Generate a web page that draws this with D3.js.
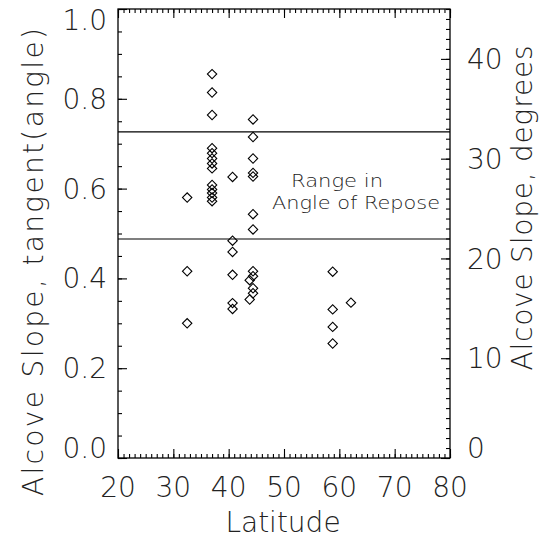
<!DOCTYPE html>
<html>
<head>
<meta charset="utf-8">
<script src="https://cdn.jsdelivr.net/npm/d3@7"></script>
<style>
  html, body { margin: 0; padding: 0; background: #fff; }
  svg { display: block; }
  text { font-family: "DejaVu Sans", sans-serif; font-weight: 200; fill: #222; }
</style>
</head>
<body>
<svg id="chart" width="539" height="545"></svg>
<script>
// Alcove slopes by latitude (tangent of slope angle)
const latitude = [
  32.5, 32.5, 32.5,
  37.0, 37.0, 37.0, 37.0, 37.0, 37.0, 37.0, 37.0, 37.0, 37.0, 37.0, 37.0, 37.0,
  40.7, 40.7, 40.7, 40.7, 40.7, 40.7,
  44.4, 44.4, 44.4, 44.4, 44.4, 44.4, 44.4, 44.4, 44.4, 44.4, 44.4, 43.8, 43.8,
  58.8, 58.8, 58.8, 58.8,
  62.1
];
const slopeTan = [
  0.580, 0.416, 0.300,
  0.855, 0.814, 0.764, 0.690, 0.679, 0.667, 0.656, 0.645, 0.608, 0.598, 0.590, 0.580, 0.572,
  0.626, 0.484, 0.459, 0.408, 0.345, 0.332,
  0.754, 0.715, 0.667, 0.635, 0.627, 0.543, 0.509, 0.416, 0.405, 0.378, 0.367, 0.396, 0.353,
  0.415, 0.331, 0.292, 0.255,
  0.346
];
// Angle of repose range, as tangents of 36 and 26 degrees
const reposeLimits = [0.7265, 0.4877];

const latTicks = [20, 30, 40, 50, 60, 70, 80];
const tanTicks = [0.0, 0.2, 0.4, 0.6, 0.8, 1.0];
const degTicks = [0, 10, 20, 30, 40];

const svg = d3.select("#chart");
const plotLeft = 118, plotRight = 450, plotTop = 9, plotBottom = 458;

const x = d3.scaleLinear().domain([20, 80]).range([plotLeft, plotRight]);
const y = d3.scaleLinear().domain([0, 1]).range([plotBottom, plotTop]);
const yDeg = d3.scaleLinear().domain([0, 45]).range([plotBottom, plotTop]);

const ink = "#000";

// frame
svg.append("rect")
  .attr("x", plotLeft).attr("y", plotTop)
  .attr("width", plotRight - plotLeft).attr("height", plotBottom - plotTop)
  .attr("fill", "none").attr("stroke", ink).attr("stroke-width", 1.3);

function styleTicks(g) {
  g.select(".domain").remove();
  g.selectAll("line").attr("stroke", ink).attr("stroke-width", 1.1);
}

const latMinor = d3.range(20, 81, 1);
const tanMinor = d3.range(0, 1.0001, 0.05);
const degMinor = d3.range(0, 46, 1);

// bottom / top ticks (pointing inward)
svg.append("g").attr("transform", `translate(0,${plotBottom})`)
  .call(d3.axisTop(x).tickValues(latMinor).tickSize(4).tickFormat(""))
  .call(styleTicks);
svg.append("g").attr("transform", `translate(0,${plotBottom})`)
  .call(d3.axisTop(x).tickValues(latTicks).tickSize(9).tickFormat(""))
  .call(styleTicks);
svg.append("g").attr("transform", `translate(0,${plotTop})`)
  .call(d3.axisBottom(x).tickValues(latMinor).tickSize(4).tickFormat(""))
  .call(styleTicks);
svg.append("g").attr("transform", `translate(0,${plotTop})`)
  .call(d3.axisBottom(x).tickValues(latTicks).tickSize(9).tickFormat(""))
  .call(styleTicks);

// left ticks
svg.append("g").attr("transform", `translate(${plotLeft},0)`)
  .call(d3.axisRight(y).tickValues(tanMinor).tickSize(4).tickFormat(""))
  .call(styleTicks);
svg.append("g").attr("transform", `translate(${plotLeft},0)`)
  .call(d3.axisRight(y).tickValues(tanTicks).tickSize(9).tickFormat(""))
  .call(styleTicks);

// right ticks (degrees)
svg.append("g").attr("transform", `translate(${plotRight},0)`)
  .call(d3.axisLeft(yDeg).tickValues(degMinor).tickSize(4).tickFormat(""))
  .call(styleTicks);
svg.append("g").attr("transform", `translate(${plotRight},0)`)
  .call(d3.axisLeft(yDeg).tickValues(degTicks).tickSize(9).tickFormat(""))
  .call(styleTicks);

const fs = 28;

// bottom tick labels
svg.append("g").selectAll("text").data(latTicks).join("text")
  .attr("x", d => x(d)).attr("y", 497)
  .attr("text-anchor", "middle").attr("font-size", fs)
  .text(d => d);

// left tick labels
svg.append("g").selectAll("text").data(tanTicks).join("text")
  .attr("x", 107)
  .attr("y", d => y(d) + (d === 1 ? 11 : d === 0 ? -10 : 0))
  .attr("dy", "0.36em")
  .attr("text-anchor", "end").attr("font-size", fs)
  .text(d => d3.format(".1f")(d));

// right tick labels
svg.append("g").selectAll("text").data(degTicks).join("text")
  .attr("x", 467)
  .attr("y", d => yDeg(d) + (d === 0 ? -10 : 0))
  .attr("dy", "0.36em")
  .attr("text-anchor", "start").attr("font-size", fs)
  .text(d => d);

// axis titles
svg.append("text")
  .attr("x", 283).attr("y", 532)
  .attr("text-anchor", "middle").attr("font-size", fs)
  .text("Latitude");

svg.append("text")
  .attr("transform", "translate(43,262) rotate(-90)")
  .attr("text-anchor", "middle").attr("font-size", fs)
  .attr("textLength", 468).attr("lengthAdjust", "spacing")
  .text("Alcove Slope, tangent(angle)");

svg.append("text")
  .attr("transform", "translate(532,208) rotate(-90)")
  .attr("text-anchor", "middle").attr("font-size", fs)
  .attr("textLength", 325).attr("lengthAdjust", "spacing")
  .text("Alcove Slope, degrees");

// angle of repose range
svg.append("g").selectAll("line").data(reposeLimits).join("line")
  .attr("x1", plotLeft).attr("x2", plotRight)
  .attr("y1", d => y(d)).attr("y2", d => y(d))
  .attr("stroke", ink).attr("stroke-width", 1.2);

svg.append("text").attr("x", 291).attr("y", 187)
  .attr("font-size", 18.5).attr("textLength", 92).attr("lengthAdjust", "spacingAndGlyphs")
  .text("Range in");
svg.append("text").attr("x", 272).attr("y", 209)
  .attr("font-size", 18.5).attr("textLength", 168).attr("lengthAdjust", "spacingAndGlyphs")
  .text("Angle of Repose");

// data points as open diamonds
const diamond = d3.symbol().type(d3.symbolSquare).size(44);
svg.append("g").selectAll("path").data(latitude.map((d, i) => [d, slopeTan[i]])).join("path")
  .attr("d", diamond)
  .attr("transform", d => `translate(${x(d[0])},${y(d[1])}) rotate(45)`)
  .attr("fill", "none").attr("stroke", ink).attr("stroke-width", 1.1);
</script>
</body>
</html>
